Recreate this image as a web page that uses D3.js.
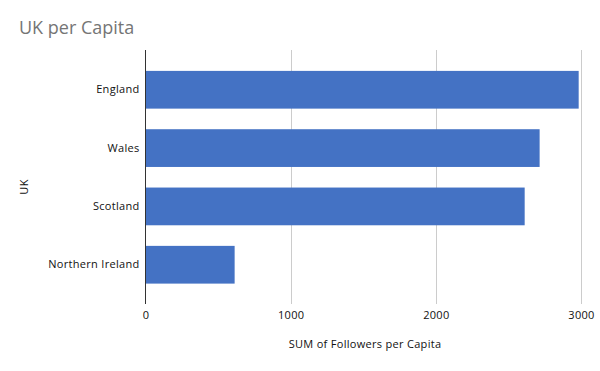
<!DOCTYPE html>
<html><head><meta charset="utf-8">
<script src="https://cdn.jsdelivr.net/npm/d3@7"></script>
<style>body{margin:0;background:#fff}svg{display:block;font-family:"Open Sans",sans-serif}</style>
</head><body><svg id="c" width="600" height="371"></svg>
<script>
const categories = ["England", "Wales", "Scotland", "Northern Ireland"];
const values = [2984, 2715, 2612, 614];
const xTicks = [0, 1000, 2000, 3000];

const svg = d3.select("#c");
const x = d3.scaleLinear().domain([0, 3000]).range([145.5, 581]);
const y = d3.scaleBand().domain(categories).range([60.6, 293.9]).paddingInner(0.353).paddingOuter(0.1765);

svg.append("text").attr("x", 19).attr("y", 34).attr("fill", "#757575").attr("font-size", 18).text("UK per Capita");

svg.append("g").selectAll("line").data(xTicks.slice(1)).join("line")
  .attr("x1", d => Math.round(x(d)) + 0.5).attr("x2", d => Math.round(x(d)) + 0.5)
  .attr("y1", 50).attr("y2", 304).attr("stroke", "#cccccc").attr("stroke-width", 1);

svg.append("g").selectAll("rect").data(values).join("rect")
  .attr("x", x(0)).attr("y", (d, i) => y(categories[i]))
  .attr("width", d => x(d) - x(0)).attr("height", y.bandwidth())
  .attr("fill", "#4472c4");

svg.append("line").attr("x1", 145.5).attr("x2", 145.5).attr("y1", 50).attr("y2", 304).attr("stroke", "#333").attr("stroke-width", 1);

const txt = g => g.selectAll("text").attr("font-size", 11).attr("fill", "#111").attr("letter-spacing", "0.3px").attr("font-family", "Open Sans");

const xa = d3.axisBottom(x).tickValues(xTicks).tickSize(0).tickPadding(0).tickFormat(d3.format("d"));
svg.append("g").attr("transform", "translate(0,311)").call(xa)
  .call(g => g.select(".domain").remove())
  .call(txt);

const ya = d3.axisLeft(y).tickSize(0).tickPadding(0);
svg.append("g").attr("transform", "translate(139.5,0)").call(ya)
  .call(g => g.select(".domain").remove())
  .call(txt);

svg.append("text").attr("x", 365).attr("y", 348).attr("text-anchor", "middle").attr("font-size", 11).attr("fill", "#111").attr("letter-spacing", "0.3px").text("SUM of Followers per Capita");
svg.append("text").attr("transform", "translate(28,187) rotate(-90)").attr("text-anchor", "middle").attr("font-size", 11).attr("fill", "#111").attr("letter-spacing", "0.3px").text("UK");
</script></body></html>
